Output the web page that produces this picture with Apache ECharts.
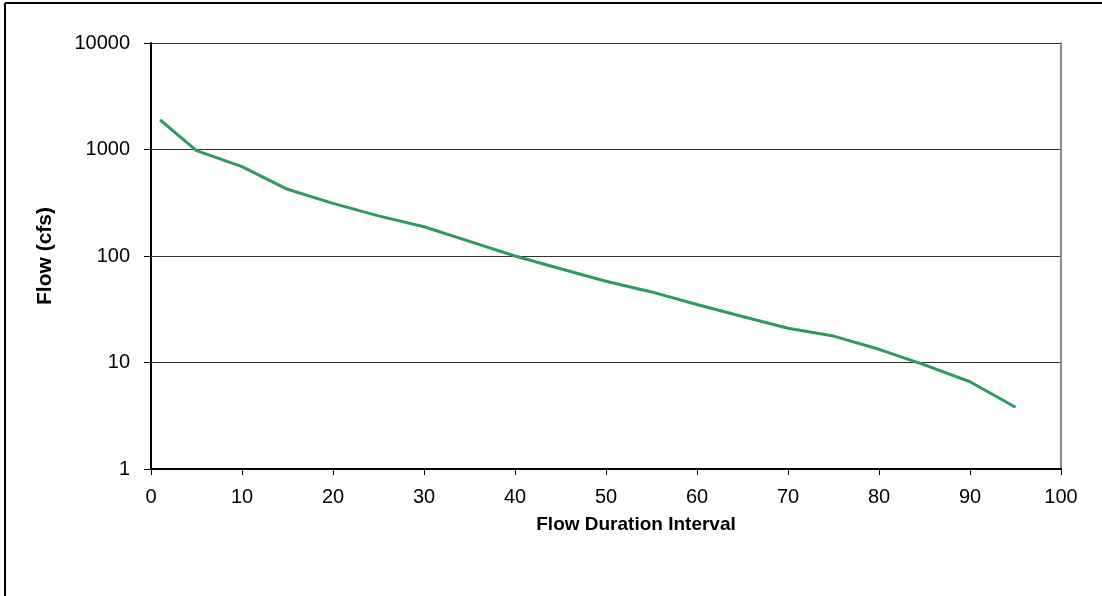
<!DOCTYPE html>
<html>
<head>
<meta charset="utf-8">
<script src="https://cdn.jsdelivr.net/npm/echarts@6/dist/echarts.min.js"></script>
<style>
  html, body { margin: 0; padding: 0; background: #fff; }
  #chart { width: 1102px; height: 596px; }
</style>
</head>
<body>
<div id="chart"></div>
<script>
var FONT = "'Liberation Sans', Arial, sans-serif";

// flow duration interval (%) and flow (cfs)
var intervals = [1, 5, 10, 15, 20, 25, 30, 35, 40, 45, 50, 55, 60, 65, 70, 75, 80, 85, 90, 95];
var flows = [1900, 975, 690, 423, 312, 238, 188, 137, 100, 76, 58, 46, 35, 27, 21, 17.7, 13.3, 9.5, 6.6, 3.8];

var chart = echarts.init(document.getElementById("chart"));

var option = {
  backgroundColor: "#fff",
  animation: false,
  grid: { left: 151, right: 41, top: 43, bottom: 127 },
  graphic: [
    { type: "line", shape: { x1: 5, y1: 3, x2: 5, y2: 596 }, style: { stroke: "#000", lineWidth: 2 } },
    { type: "line", shape: { x1: 5, y1: 3, x2: 1102, y2: 3 }, style: { stroke: "#000", lineWidth: 2 } }
  ],
  xAxis: {
    type: "value",
    min: 0,
    max: 100,
    interval: 10,
    name: "Flow Duration Interval",
    nameLocation: "middle",
    nameGap: 46,
    nameTextStyle: { fontFamily: FONT, fontSize: 19, fontWeight: "bold", color: "#000", padding: [0, 0, 0, 60] },
    axisLine: { lineStyle: { color: "#000", width: 2 } },
    axisTick: { length: 6, lineStyle: { color: "#000" } },
    axisLabel: { fontFamily: FONT, fontSize: 20, color: "#000", margin: 18 },
    splitLine: { show: false }
  },
  yAxis: [
    {
      type: "log",
      logBase: 10,
      min: 1,
      max: 10000,
      name: "Flow (cfs)",
      nameLocation: "middle",
      nameGap: 95,
      nameTextStyle: { fontFamily: FONT, fontSize: 21, fontWeight: "bold", color: "#000" },
      axisLine: { onZero: false, lineStyle: { color: "#000", width: 2 } },
      axisTick: { length: 7, lineStyle: { color: "#000" } },
      axisLabel: {
        fontFamily: FONT, fontSize: 20, color: "#000", margin: 21,
        formatter: function (v) { return String(v); }
      },
      splitLine: { show: true, lineStyle: { color: "#333", width: 1 } },
      minorTick: { show: false }
    },
    {
      type: "log",
      logBase: 10,
      min: 1,
      max: 10000,
      position: "right",
      axisLine: { show: true, onZero: false, lineStyle: { color: "#888", width: 2 } },
      axisTick: { show: false },
      axisLabel: { show: false },
      splitLine: { show: false }
    }
  ],
  series: [
    {
      type: "line",
      data: intervals.map(function (x, i) { return [x, flows[i]]; }),
      symbol: "none",
      lineStyle: { color: "#2e9a5e", width: 3 },
      itemStyle: { color: "#2e9a5e" }
    }
  ]
};

chart.setOption(option);
</script>
</body>
</html>
